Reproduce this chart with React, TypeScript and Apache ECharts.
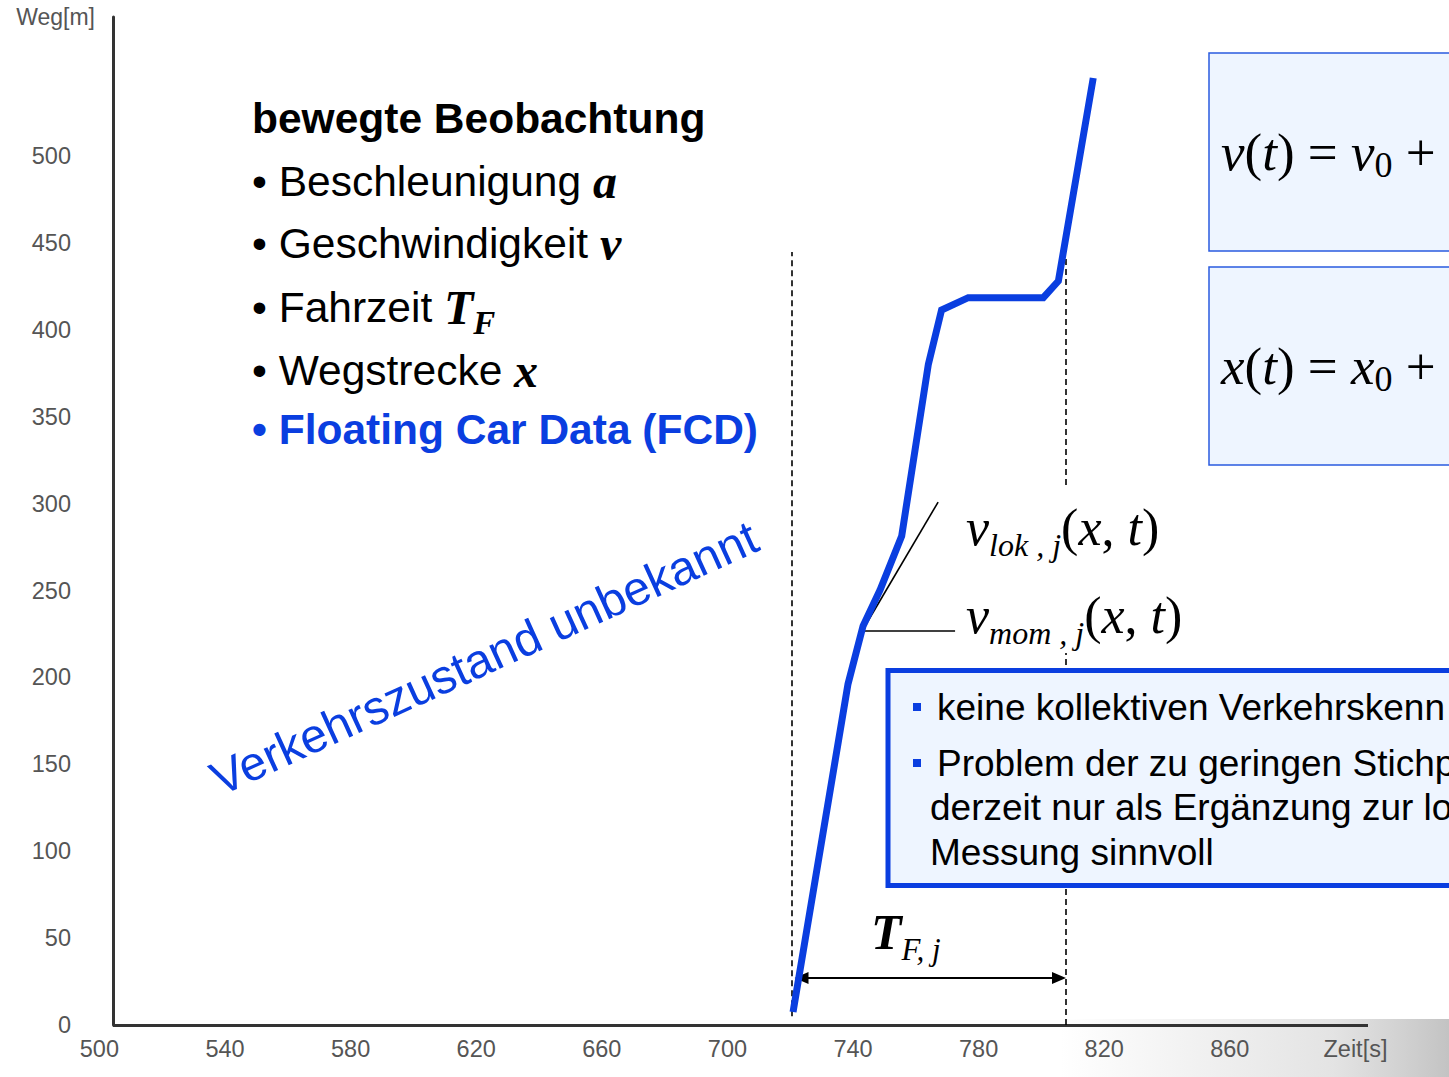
import React, { useEffect, useRef } from 'react';
import * as echarts from 'echarts';

// ---- data ----
const timeS = [720.9, 738.4, 743.2, 748.6, 755.5, 764.0, 768.2, 776.7, 800.6, 805.4, 816.5];
const wegM = [7.5, 196.2, 229.6, 250.3, 281.4, 380.3, 411.4, 418.5, 418.5, 428.1, 544.9];

const xLabelValues = [500, 540, 580, 620, 660, 700, 740, 780, 820, 860, 900];
const yLabelValues = [0, 50, 100, 150, 200, 250, 300, 350, 400, 450, 500];
const xAxisTitle = 'Zeit[s]';
const yAxisTitle = 'Weg[m]';

// annotation anchors (data units)
const tripStart = 720.6;
const tripEnd = 807.8;
const dashTopLeft = 444.8;
const dashTopRight = 443;
const arrowWeg = 27;
const arrowFrom = 723.6;
const arrowTo = 805.6;
const tangentStart = [742.9, 226.7];
const tangentEnd = [767.1, 300.9];
const momEnd = [772.5, 226.7];
const yAxisAtT = 504.3;
const xMax = 904;
const yMax = 580;

const BLUE = '#0a3ee0';
const SANS = '"Liberation Sans", Arial, Helvetica, sans-serif';
const SERIF = '"Liberation Serif", "Times New Roman", Times, serif';

function bulletLine(text: string, y: number, z = 101) {
  return {
    type: 'text',
    x: 252,
    y,
    z,
    silent: true,
    style: {
      text,
      verticalAlign: 'middle',
      align: 'left',
      fill: '#000',
      rich: {
        n: { fontFamily: SANS, fontSize: 42.5, fill: '#000' },
        b: { fontFamily: SANS, fontSize: 42.5, fontWeight: 'bold', fill: BLUE },
        m: { fontFamily: SERIF, fontSize: 48, fontStyle: 'italic', fontWeight: 'bold', fill: '#000' },
        S: { fontFamily: SERIF, fontSize: 33, fontStyle: 'italic', fontWeight: 'bold', fill: '#000', padding: [32, 0, 0, 0] },
      },
    },
  };
}

const formulaRich = (size: number, subSize: number, subPad: number) => ({
  i: { fontFamily: SERIF, fontSize: size, fontStyle: 'italic', fill: '#000' },
  r: { fontFamily: SERIF, fontSize: size, fill: '#000' },
  s: { fontFamily: SERIF, fontSize: subSize, fill: '#000', padding: [subPad, 0, 0, 0] },
  S: { fontFamily: SERIF, fontSize: subSize, fontStyle: 'italic', fill: '#000', padding: [subPad, 0, 0, 0] },
});

const boxText = (text: string, x: number, y: number) => ({
  type: 'text',
  x,
  y,
  z: 101,
  silent: true,
  style: { text, fontFamily: SANS, fontSize: 37, fill: '#000', verticalAlign: 'middle' },
});

export default function App() {
  const ref = useRef<HTMLDivElement>(null);
  useEffect(() => {
    if (!ref.current) return;
    const chart = echarts.init(ref.current, null, { renderer: 'svg' });
    const option: any = {
      animation: false,
      backgroundColor: '#ffffff',
      grid: { left: 99.4, right: 81, top: 17, bottom: 52, containLabel: false, outerBoundsMode: 'none' },
      xAxis: {
        type: 'value',
        min: 500,
        max: xMax,
        axisLine: { show: false },
        axisTick: { show: false },
        splitLine: { show: false },
        axisLabel: {
          customValues: xLabelValues,
          margin: 12,
          color: '#555',
          fontSize: 23.5,
          fontFamily: SANS,
          formatter: (v: number) => (v === 900 ? xAxisTitle : String(v)),
        },
      },
      yAxis: {
        type: 'value',
        min: 0,
        max: yMax,
        offset: -13.6,
        name: yAxisTitle,
        nameLocation: 'end',
        nameGap: 0,
        nameTextStyle: {
          color: '#555',
          fontSize: 23,
          fontFamily: SANS,
          align: 'right',
          verticalAlign: 'middle',
          padding: [0, 18, 0, 0],
        },
        axisLine: { show: true, lineStyle: { color: '#333', width: 3 } },
        axisTick: { show: false },
        splitLine: { show: false },
        axisLabel: {
          customValues: yLabelValues,
          margin: 42,
          color: '#555',
          fontSize: 23.5,
          fontFamily: SANS,
        },
      },
      series: [
        {
          type: 'line',
          name: 'Floating Car',
          data: timeS.map((t, i) => [t, wegM[i]]),
          symbol: 'none',
          silent: true,
          z: 5,
          lineStyle: { color: BLUE, width: 7, join: 'miter', cap: 'butt' },
        },
        {
          type: 'line',
          name: 'xaxisline',
          data: [],
          markLine: {
            silent: true,
            symbol: ['none', 'none'],
            label: { show: false },
            emphasis: { disabled: true },
            lineStyle: { color: '#333', width: 3, type: 'solid' },
            data: [[{ coord: [yAxisAtT, 0] }, { coord: [xMax, 0] }]],
          },
        },
        {
          type: 'line',
          name: 'dashed',
          data: [],
          markLine: {
            silent: true,
            symbol: ['none', 'none'],
            label: { show: false },
            emphasis: { disabled: true },
            lineStyle: { color: '#000', width: 1.6, type: [6, 4] },
            data: [
              [{ coord: [tripStart, 5] }, { coord: [tripStart, dashTopLeft] }],
              [{ coord: [tripEnd, 0] }, { coord: [tripEnd, dashTopRight] }],
            ],
          },
        },
        {
          type: 'line',
          name: 'tangent',
          data: [],
          markLine: {
            silent: true,
            symbol: ['none', 'none'],
            label: { show: false },
            emphasis: { disabled: true },
            lineStyle: { color: '#000', width: 1.6, type: 'solid' },
            data: [
              [{ coord: tangentStart }, { coord: tangentEnd }],
              [{ coord: tangentStart }, { coord: momEnd }],
            ],
          },
        },
        {
          type: 'line',
          name: 'arrow',
          data: [],
          markLine: {
            silent: true,
            symbol: ['triangle', 'triangle'],
            symbolSize: [12, 14],
            label: { show: false },
            emphasis: { disabled: true },
            lineStyle: { color: '#000', width: 1.8, type: 'solid' },
            itemStyle: { color: '#000' },
            data: [[{ coord: [arrowFrom, arrowWeg] }, { coord: [arrowTo, arrowWeg] }]],
          },
        },
      ],
      graphic: [
        {
          type: 'rect',
          z: -10,
          silent: true,
          shape: { x: 1060, y: 1019, width: 389, height: 58 },
          style: {
            fill: new echarts.graphic.LinearGradient(0, 0, 1, 0, [
              { offset: 0, color: 'rgba(205,205,205,0)' },
              { offset: 0.7, color: 'rgba(205,205,205,0.55)' },
              { offset: 1, color: 'rgba(195,195,195,1)' },
            ]),
          },
        },
        {
          type: 'text',
          x: 252,
          y: 118,
          z: 101,
          silent: true,
          style: { text: 'bewegte Beobachtung', fontFamily: SANS, fontSize: 42.5, fontWeight: 'bold', fill: '#000', verticalAlign: 'middle' },
        },
        bulletLine('{n|• Beschleunigung }{m|a}', 181),
        bulletLine('{n|• Geschwindigkeit }{m|v}', 243),
        bulletLine('{n|• Fahrzeit }{m|T}{S|F}', 307),
        bulletLine('{n|• Wegstrecke }{m|x}', 370),
        bulletLine('{b|• Floating Car Data (FCD)}', 429),
        {
          type: 'text',
          x: 484,
          y: 658,
          z: 101,
          silent: true,
          rotation: (24.5 * Math.PI) / 180,
          style: {
            text: 'Verkehrszustand unbekannt',
            fontFamily: SANS,
            fontSize: 48,
            fill: BLUE,
            align: 'center',
            verticalAlign: 'middle',
          },
        },
        // formula boxes
        {
          type: 'rect',
          z: 100,
          silent: true,
          shape: { x: 1209, y: 53, width: 300, height: 198 },
          style: { fill: '#eef5ff', stroke: '#2a5be0', lineWidth: 1.5 },
        },
        {
          type: 'rect',
          z: 100,
          silent: true,
          shape: { x: 1209, y: 267, width: 300, height: 198 },
          style: { fill: '#eef5ff', stroke: '#2a5be0', lineWidth: 1.5 },
        },
        {
          type: 'text',
          x: 1221,
          y: 152,
          z: 101,
          silent: true,
          style: {
            text: '{i|v}{r|(}{i|t}{r|) = }{i|v}{s|0}{r| +}',
            verticalAlign: 'middle',
            rich: formulaRich(53, 36, 26),
          },
        },
        {
          type: 'text',
          x: 1221,
          y: 366,
          z: 101,
          silent: true,
          style: {
            text: '{i|x}{r|(}{i|t}{r|) = }{i|x}{s|0}{r| +}',
            verticalAlign: 'middle',
            rich: formulaRich(53, 36, 26),
          },
        },
        // white backdrop of the velocity labels
        {
          type: 'rect',
          z: 50,
          silent: true,
          shape: { x: 958, y: 488, width: 240, height: 165 },
          style: { fill: '#ffffff' },
        },
        {
          type: 'text',
          x: 966,
          y: 527,
          z: 101,
          silent: true,
          style: {
            text: '{i|v}{S|lok , j}{r|(}{i|x}{r|, }{i|t}{r|)}',
            verticalAlign: 'middle',
            rich: formulaRich(52, 32, 36),
          },
        },
        {
          type: 'text',
          x: 966,
          y: 615,
          z: 101,
          silent: true,
          style: {
            text: '{i|v}{S|mom , j}{r|(}{i|x}{r|, }{i|t}{r|)}',
            verticalAlign: 'middle',
            rich: formulaRich(52, 32, 36),
          },
        },
        {
          type: 'text',
          x: 871,
          y: 932,
          z: 101,
          silent: true,
          style: {
            text: '{T|T}{S|F, j}',
            verticalAlign: 'middle',
            rich: {
              T: { fontFamily: SERIF, fontSize: 50, fontStyle: 'italic', fontWeight: 'bold', fill: '#000' },
              S: { fontFamily: SERIF, fontSize: 31, fontStyle: 'italic', fill: '#000', padding: [34, 0, 0, 0] },
            },
          },
        },
        // conclusions box
        {
          type: 'rect',
          z: 100,
          silent: true,
          shape: { x: 888, y: 670.5, width: 600, height: 215 },
          style: { fill: '#eef5ff', stroke: BLUE, lineWidth: 5 },
        },
        { type: 'rect', z: 101, silent: true, shape: { x: 913, y: 703, width: 8, height: 8 }, style: { fill: BLUE } },
        { type: 'rect', z: 101, silent: true, shape: { x: 913, y: 759, width: 8, height: 8 }, style: { fill: BLUE } },
        boxText('keine kollektiven Verkehrskenn', 937, 707),
        boxText('Problem der zu geringen Stichp', 937, 763),
        boxText('derzeit nur als Ergänzung zur lo', 930, 807),
        boxText('Messung sinnvoll', 930, 852),
      ],
    };
    chart.setOption(option);
    return () => chart.dispose();
  }, []);
  return (
    <div
      ref={ref}
      style={{ position: 'absolute', left: 0, top: 0, width: 1449, height: 1077, background: '#fff' }}
    />
  );
}
